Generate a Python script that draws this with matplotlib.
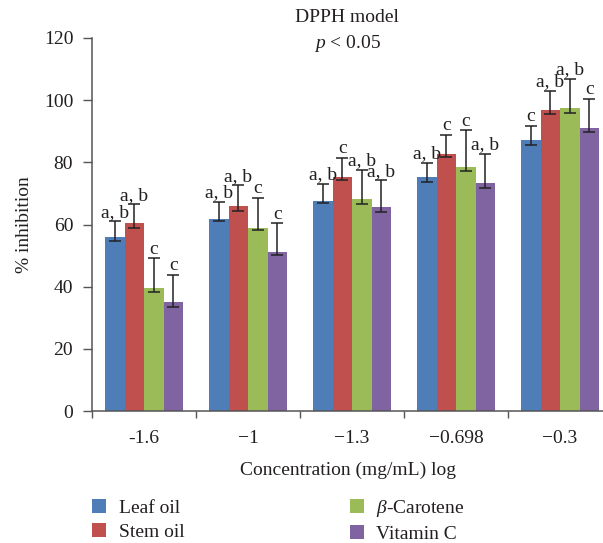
import numpy as np
import matplotlib
matplotlib.use("Agg")
import matplotlib.pyplot as plt
from matplotlib.patches import Patch

# --- Fonts ---
plt.rcParams['font.family'] = ['Liberation Serif', 'DejaVu Serif']
plt.rcParams['mathtext.fontset'] = 'custom'
plt.rcParams['mathtext.rm'] = 'Liberation Serif'
plt.rcParams['mathtext.it'] = 'Liberation Serif:italic'

# --- Data ---
concentrations = ['-1.6', '\u22121', '\u22121.3', '\u22120.698', '\u22120.3']
series_names = ['Leaf oil', 'Stem oil', r'$\beta$-Carotene', 'Vitamin C']
colors = ['#4f7db8', '#c0504d', '#9bbb59', '#8064a2']

leaf = [56.1, 61.9, 67.7, 75.2, 87.1]
leaf_hi = [4.9, 5.3, 5.4, 4.7, 4.7]
leaf_lo = [1.3, 0.8, 0.9, 1.5, 1.4]

stem = [60.4, 65.8, 75.2, 82.8, 96.8]
stem_hi = [6.1, 6.8, 6.3, 6.1, 6.1]
stem_lo = [1.6, 1.3, 1.0, 1.1, 1.4]

beta = [39.6, 58.9, 68.1, 78.4, 97.4]
beta_hi = [9.5, 9.6, 9.5, 11.9, 9.4]
beta_lo = [1.4, 0.6, 1.4, 1.3, 1.5]

vitc = [35.2, 51.0, 65.5, 73.2, 91.0]
vitc_hi = [8.7, 9.4, 8.7, 9.5, 9.4]
vitc_lo = [1.6, 0.7, 1.5, 1.3, 1.4]

# significance letters per series, per concentration
leaf_sig = ['a, b', 'a, b', 'a, b', 'a, b', 'c']
stem_sig = ['a, b', 'a, b', 'c', 'c', 'a, b']
beta_sig = ['c', 'c', 'a, b', 'c', 'a, b']
vitc_sig = ['c', 'c', 'a, b', 'a, b', 'c']

values = [leaf, stem, beta, vitc]
err_hi = [leaf_hi, stem_hi, beta_hi, vitc_hi]
err_lo = [leaf_lo, stem_lo, beta_lo, vitc_lo]
sigs = [leaf_sig, stem_sig, beta_sig, vitc_sig]

# --- Figure ---
W, H = 603, 543
fig = plt.figure(figsize=(W / 100, H / 100), dpi=100)
ax = fig.add_axes([92 / W, (H - 411) / H, (W - 92) / W, (411 - 38) / H])

text_col = '#231f20'
axis_col = '#555555'

x = np.arange(len(concentrations))
bw = 0.1875
for i in range(4):
    xs = x + (i - 1.5) * bw
    ax.bar(xs, values[i], width=bw, color=colors[i], zorder=2)
    ax.errorbar(xs, values[i], yerr=[err_lo[i], err_hi[i]], fmt='none',
                ecolor='#222222', elinewidth=1.1, capsize=4, capthick=1.1, zorder=3)
    for xx, v, e, s in zip(xs, values[i], err_hi[i], sigs[i]):
        ax.annotate(s, (xx, v + e), xytext=(0, 0.5), textcoords='offset points',
                    ha='center', va='bottom', fontsize=14, color=text_col, zorder=4)

ax.set_xlim(-0.5, -0.5 + 511 / 104)
ax.set_ylim(0, 120)
ax.set_yticks(np.arange(0, 121, 20))

# group boundaries as ticks, labels at group centres
ax.set_xticks(np.arange(-0.5, 4.0, 1.0))
ax.set_xticklabels([])
ax.set_xticks(x, minor=True)
ax.set_xticklabels(concentrations, minor=True)
ax.tick_params(axis='x', which='minor', length=0, pad=14, labelsize=14, labelcolor=text_col)
ax.tick_params(axis='x', which='major', length=5, width=1, color=axis_col, direction='out')
ax.tick_params(axis='y', length=6.5, width=1, color=axis_col, direction='out',
               labelsize=14, labelcolor=text_col, pad=7)

for side in ['top', 'right']:
    ax.spines[side].set_visible(False)
for side in ['left', 'bottom']:
    ax.spines[side].set_color(axis_col)
    ax.spines[side].set_linewidth(1.1)

ax.set_ylabel('% inhibition', fontsize=14, color=text_col, labelpad=8)
ax.set_xlabel('Concentration (mg/mL) log', fontsize=14, color=text_col, labelpad=10)

fig.text(347 / W, 1 - 17 / H, 'DPPH model', ha='center', va='center', fontsize=14, color=text_col)
fig.text(347 / W, 1 - 43 / H, r'$p$ < 0.05', ha='center', va='center', fontsize=14, color=text_col)

handles = [Patch(facecolor=c, edgecolor='none') for c in colors]
fig.legend(handles, series_names, ncol=2, loc='upper left',
           bbox_to_anchor=(92 / W, 1 - 498 / H), frameon=False, fontsize=14,
           handlelength=0.72, handleheight=0.72, handletextpad=0.65,
           columnspacing=8.5, labelspacing=0.3, borderpad=0, borderaxespad=0,
           labelcolor=text_col)

fig.savefig('out.png', dpi=100)
